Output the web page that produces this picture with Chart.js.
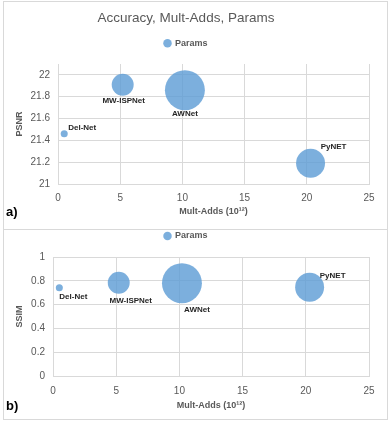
<!DOCTYPE html>
<html>
<head>
<meta charset="utf-8">
<script src="https://cdn.jsdelivr.net/npm/chart.js@4.4.1/dist/chart.umd.min.js"></script>
<style>
  body { margin: 0; background: #fff; }
  #wrap { position: relative; width: 389px; height: 423px; overflow: hidden; background: #fff; }
  .box { position: absolute; border: 1px solid #d9d9d9; }
  canvas { position: absolute; left: 0; }
  .tag { position: absolute; font: bold 13px "Liberation Sans", Arial, sans-serif; color: #000; }
</style>
</head>
<body>
<div id="wrap">
  <div class="box" style="left:3px; top:1px; width:383px; height:227px;"></div>
  <div class="box" style="left:3px; top:229px; width:383px; height:189px;"></div>
  <canvas id="psnrChart" style="top:0" width="389" height="228"></canvas>
  <canvas id="ssimChart" style="top:219px" width="389" height="204"></canvas>
  <div class="tag" style="left:6px; top:204px;">a)</div>
  <div class="tag" style="left:6px; top:398px;">b)</div>
</div>
<script>
// data
const models = ["Del-Net", "MW-ISPNet", "AWNet", "PyNET"];
const multAdds = [0.5, 5.2, 10.2, 20.3];     // 10^12
const psnr = [21.46, 21.91, 21.86, 21.19];
const ssim = [0.742, 0.784, 0.780, 0.745];
const params = [2.8, 27.3, 90.4, 47.5];       // bubble size (area)

const xTicks = { min: 0, max: 25, step: 5 };

Chart.defaults.font.family = '"Liberation Sans", Arial, sans-serif';
Chart.defaults.color = "#595959";

const bubbleColor = "rgba(91,155,213,0.8)";
const gridColor = "#d9d9d9";

function bubbleRadius(p) {
    return 2.1 * Math.sqrt(p);
}

function makePoints(yValues) {
    return models.map((m, i) => ({ x: multAdds[i], y: yValues[i], r: bubbleRadius(params[i]) }));
}

// name labels next to the bubbles (text offsets in px)
const nameLabels = {
    id: "nameLabels",
    afterDatasetsDraw(chart, args, opts) {
        const ctx = chart.ctx;
        const meta = chart.getDatasetMeta(0);
        ctx.save();
        ctx.font = 'bold 8px "Liberation Sans", Arial, sans-serif';
        ctx.fillStyle = "#262626";
        ctx.textAlign = "center";
        ctx.textBaseline = "middle";
        meta.data.forEach((pt, i) => {
            const off = opts.offsets[i];
            ctx.fillText(models[i], pt.x + off[0], pt.y + off[1]);
        });
        ctx.restore();
    }
};

// extra space below the legend
const legendGap = {
    id: "legendGap",
    beforeInit(chart, args, opts) {
        const fit = chart.legend.fit;
        chart.legend.fit = function () {
            fit.call(this);
            this.height += opts.gap;
        };
    }
};

function fmt(v) {
    return String(+v.toFixed(1));
}

function createChartConfig(yValues, yTitle, yMin, yMax, opts) {
    return {
        type: "bubble",
        data: {
            datasets: [
                {
                    label: "Params",
                    data: makePoints(yValues),
                    backgroundColor: bubbleColor,
                    borderColor: bubbleColor,
                    borderWidth: 0,
                    hoverRadius: 0,
                },
            ],
        },
        options: {
            responsive: false,
            animation: false,
            layout: { padding: { left: 0, right: 17, top: 0, bottom: 0 } },
            plugins: {
                title: {
                    display: opts.showTitle,
                    text: "Accuracy, Mult-Adds, Params",
                    color: "#595959",
                    font: { size: 13.5, weight: "normal" },
                    padding: { top: 10, bottom: 2 },
                },
                legend: {
                    display: true,
                    labels: {
                        usePointStyle: true,
                        pointStyle: "circle",
                        boxWidth: 6,
                        boxHeight: 6,
                        padding: opts.legendPad,
                        color: "#595959",
                        font: { size: 9, weight: "bold" },
                    },
                },
                tooltip: { enabled: false },
                nameLabels: { offsets: opts.offsets },
                legendGap: { gap: opts.legendGap },
            },
            scales: {
                x: {
                    type: "linear",
                    min: xTicks.min,
                    max: xTicks.max,
                    afterFit: (s) => { s.height = opts.xHeight; },
                    ticks: { stepSize: xTicks.step, padding: opts.xTickPad, font: { size: 10 }, color: "#595959" },
                    grid: { color: gridColor, drawTicks: false },
                    border: { color: gridColor },
                    title: {
                        display: true,
                        text: "Mult-Adds (10¹²)",
                        color: "#595959",
                        font: { size: 9, weight: "bold" },
                        padding: { top: 0, bottom: opts.xTitlePad },
                    },
                },
                y: {
                    min: yMin,
                    max: yMax,
                    afterFit: (s) => { s.width = opts.yWidth; },
                    ticks: { stepSize: 0.2, includeBounds: false, padding: 8, font: { size: 10 }, color: "#595959", callback: fmt },
                    grid: { color: gridColor, drawTicks: false },
                    border: { color: gridColor },
                    title: {
                        display: true,
                        text: yTitle,
                        color: "#595959",
                        font: { size: 9, weight: "bold" },
                        padding: { top: 14.6, bottom: 0 },
                    },
                },
            },
        },
        plugins: [nameLabels, legendGap],
    };
}

const psnrCtx = document.getElementById("psnrChart").getContext("2d");
const ssimCtx = document.getElementById("ssimChart").getContext("2d");

const psnrChart = new Chart(psnrCtx, createChartConfig(psnr, "PSNR", 21, 22.1, {
    showTitle: true, legendPad: 10.5, legendGap: 6.3, xHeight: 44, xTickPad: 8, xTitlePad: 10.6, yWidth: 58,
    offsets: [[18, -6], [1, 16], [0, 24], [23, -16]],
}));

const ssimChart = new Chart(ssimCtx, createChartConfig(ssim, "SSIM", 0, 1, {
    showTitle: false, legendPad: 12.5, legendGap: 6.5, xHeight: 47, xTickPad: 9, xTitlePad: 11.6, yWidth: 53,
    offsets: [[14, 9], [12, 18], [15, 27], [23, -12]],
}));
</script>
</body>
</html>
